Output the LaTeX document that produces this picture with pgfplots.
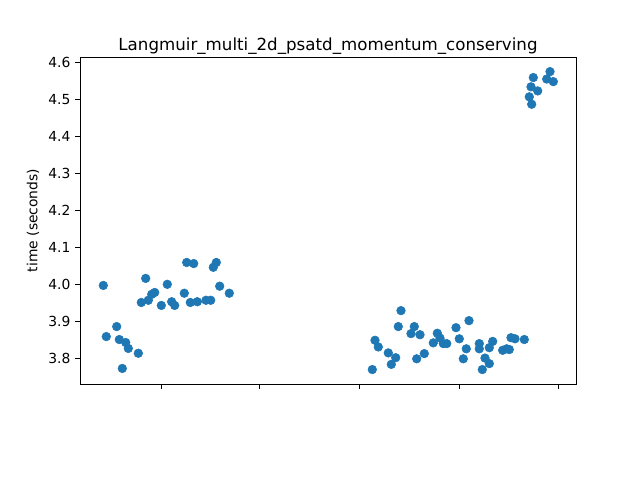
\documentclass[border=0pt]{standalone}
\usepackage{pgfplots}
\pgfplotsset{compat=1.18}
\usepackage{fontspec}
\setmainfont{DejaVu Sans}
\definecolor{mplblue}{HTML}{1F77B4}
\begin{document}
\begin{tikzpicture}
\begin{axis}[
  scale only axis,
  width=372pt, height=245.25pt,
  xmin=80, xmax=576,
  ymin=3.731, ymax=4.6135,
  xtick={161,259.5,359,459,558},
  xticklabels={},
  ytick={3.8,3.9,4.0,4.1,4.2,4.3,4.4,4.5,4.6},
  yticklabel style={/pgf/number format/.cd, fixed, fixed zerofill, precision=1},
  /pgf/number format/assume math mode=true,
  tick align=outside,
  tick pos=left,
  major tick length=3.65pt,
  tick style={black, line width=0.6pt},
  axis line style={line width=0.6pt},
  ticklabel style={font=\fontsize{10.4}{12}\selectfont},
  ylabel={time (seconds)},
  ylabel style={font=\fontsize{10.4}{12}\selectfont},
  title={Langmuir\_multi\_2d\_psatd\_momentum\_conserving},
  title style={font=\fontsize{12.5}{14}\selectfont, yshift=-7.5pt},
  clip=false,
]
\addplot[only marks, mark=*, mark size=3.25pt, mark options={draw=mplblue, fill=mplblue}, color=mplblue] coordinates {
(103.3,3.997) (106.3,3.859) (116.7,3.886) (119.3,3.851) (125.7,3.843) (128.3,3.827)
(122.3,3.773) (138.3,3.814) (141.3,3.951) (145.7,4.016) (148.3,3.957) (151.7,3.973)
(154.7,3.978) (161.3,3.943) (167.3,4.000) (171.7,3.953) (174.7,3.943) (184.3,3.976)
(186.7,4.059) (190.3,3.951) (193.7,4.056) (197.3,3.953) (206,3.957) (210.7,3.957)
(213.3,4.046) (216.3,4.059) (219.7,3.995) (229.3,3.976)
(372.3,3.770) (375,3.849) (378.3,3.831) (388.3,3.815) (391.3,3.784) (395.7,3.802)
(398.3,3.886) (401,3.929) (411,3.867) (414.3,3.886) (416.7,3.799) (420,3.864)
(424.3,3.813) (433.3,3.842) (437.3,3.868) (440,3.855) (443.3,3.840) (446.7,3.840)
(456,3.883) (459.3,3.853) (463.3,3.799) (466.3,3.826) (469,3.902) (479.3,3.840)
(479.3,3.826) (482.3,3.770) (485,3.801) (489.3,3.786) (489.3,3.829) (492.7,3.846)
(502.7,3.822) (506.7,3.826) (509.3,3.824) (511,3.856) (515,3.853) (524.3,3.851)
(533.3,4.558) (531,4.533) (537.7,4.522) (529.3,4.506) (531.7,4.486) (550,4.574)
(546.7,4.554) (553.3,4.547)
};
\end{axis}
\useasboundingbox ([xshift=-60pt,yshift=-72pt]current axis.south west) rectangle ([xshift=48pt,yshift=42.75pt]current axis.north east);
\end{tikzpicture}
\end{document}
